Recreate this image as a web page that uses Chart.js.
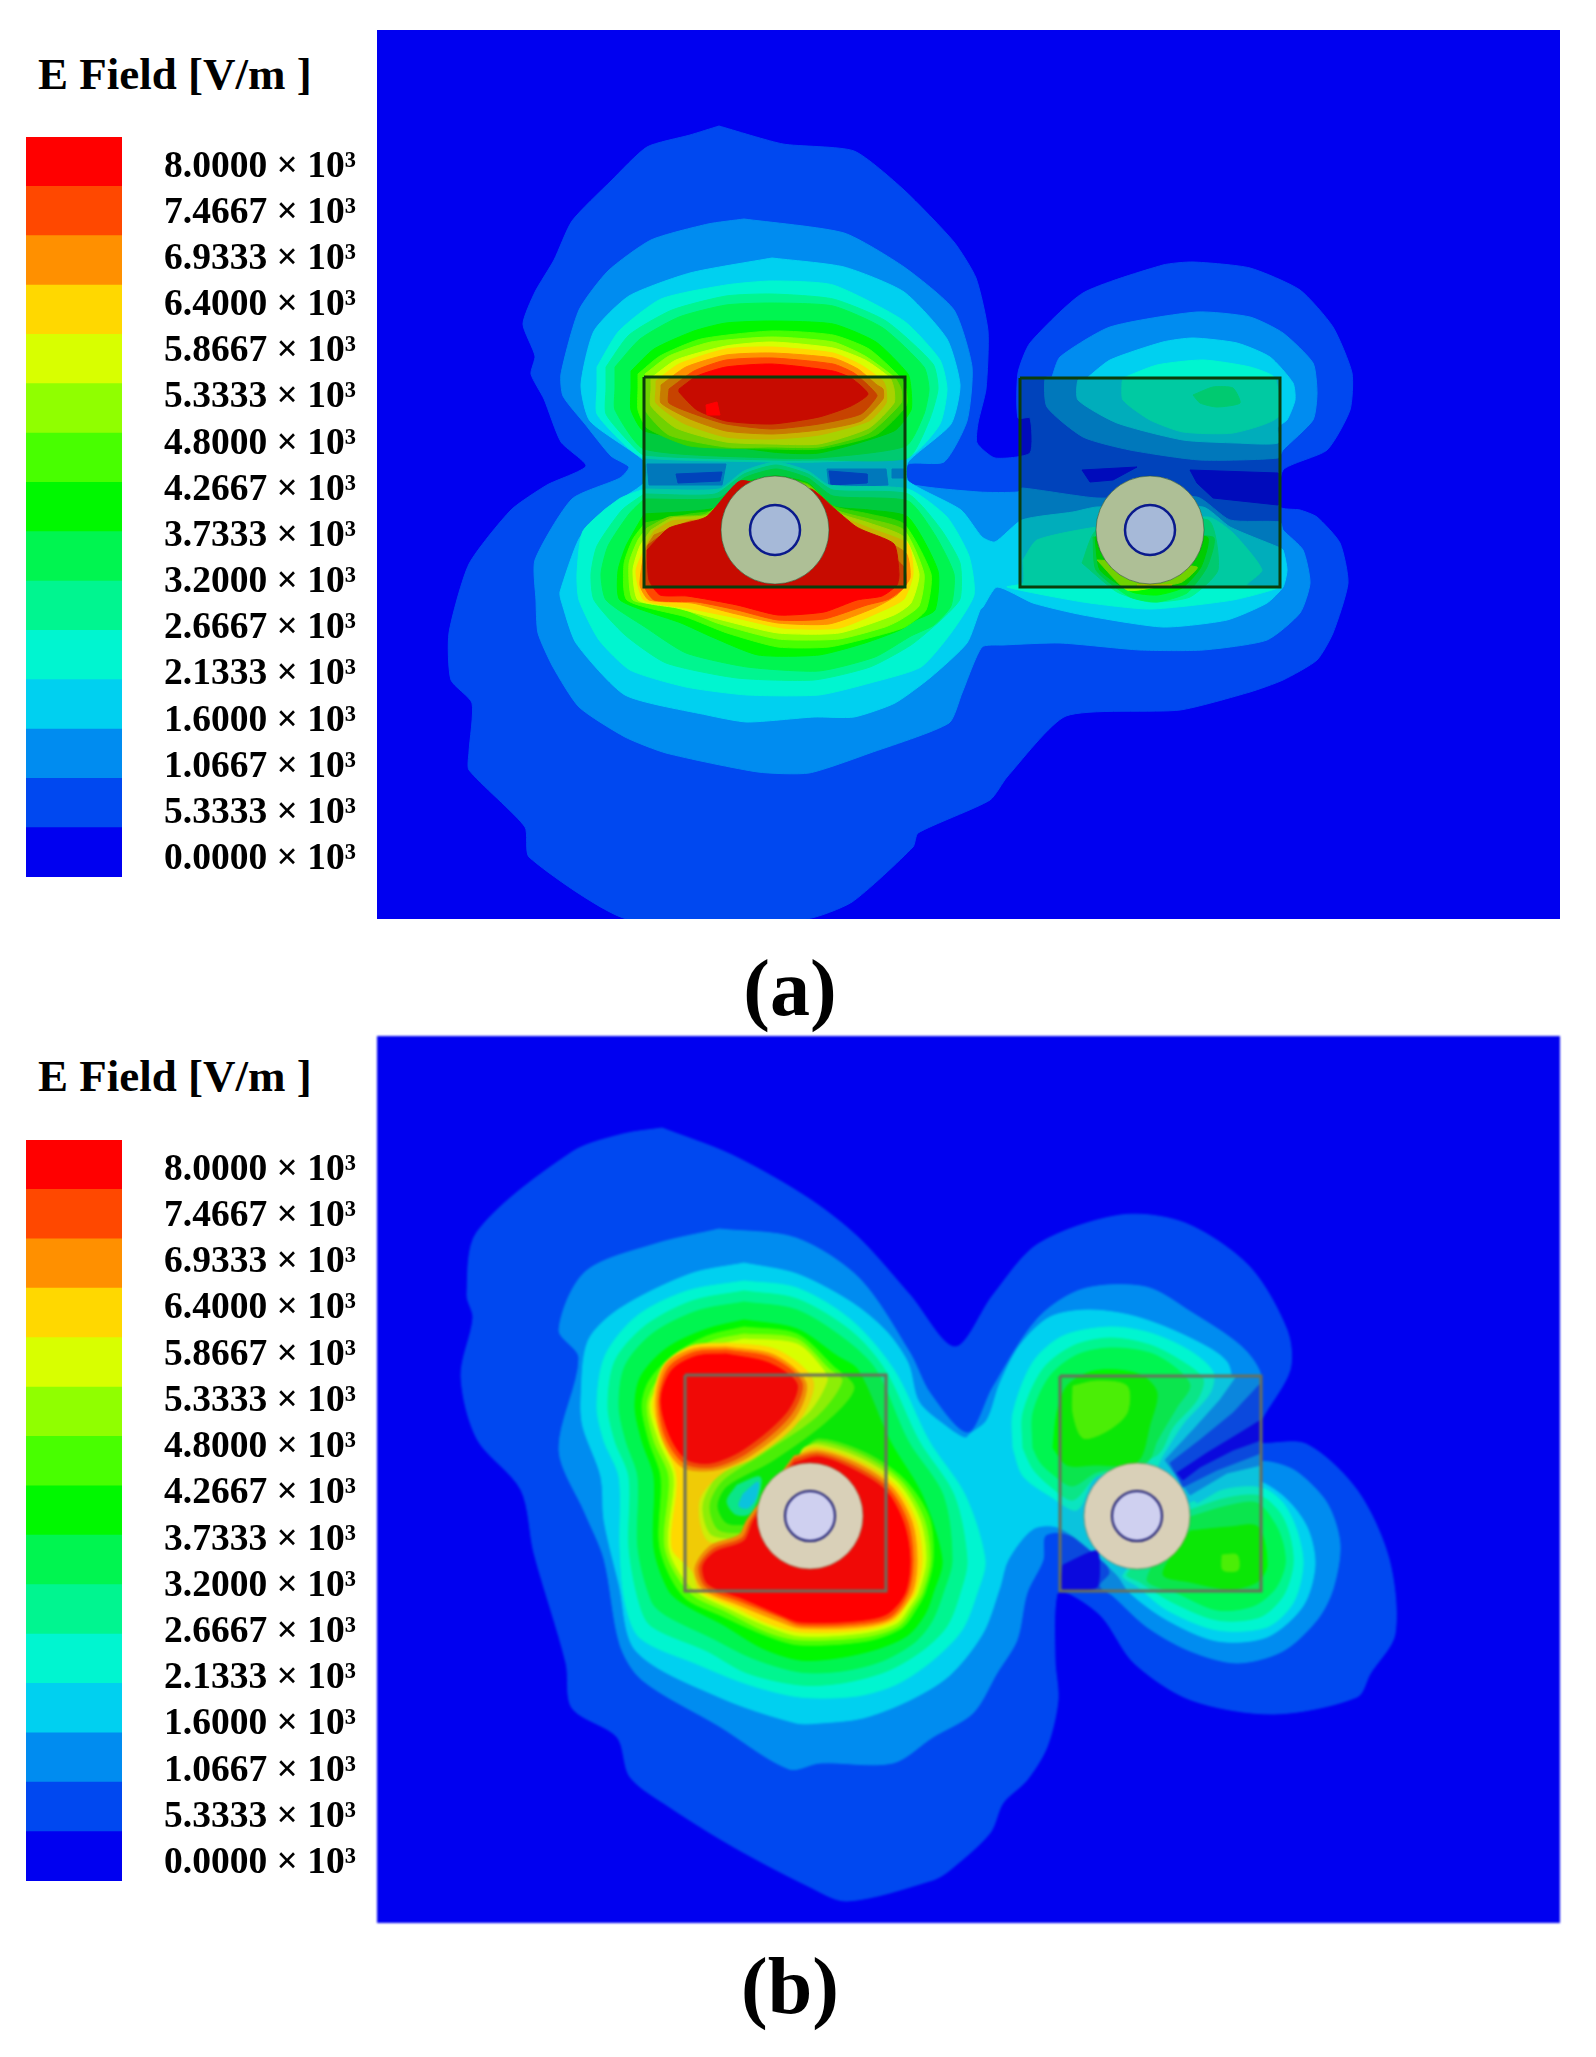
<!DOCTYPE html>
<html>
<head>
<meta charset="utf-8">
<title>E Field</title>
<script src="https://cdn.jsdelivr.net/npm/chart.js@4/dist/chart.umd.js"></script>
<style>
  html, body { margin: 0; background: #fff; }
  #page { position: relative; width: 1596px; height: 2057px; overflow: hidden; }
  canvas { position: absolute; }
  #fieldB { filter: blur(1.2px); }
  .head, .cap { position: absolute; font-family: "Liberation Serif", serif; font-weight: bold; color: #000; white-space: pre; line-height: 1; }
  .head { font-size: 45px; left: 38px; }
  .cap { font-size: 80px; left: 690px; width: 200px; text-align: center; }
</style>
</head>
<body>
<div id="page">
  <div class="head" style="top:52px">E Field [V/m ]</div>
  <div class="head" style="top:1054px">E Field [V/m ]</div>
  <canvas id="legendA" width="377" height="740" style="left:0;top:137px"></canvas>
  <canvas id="legendB" width="377" height="741" style="left:0;top:1140px"></canvas>
  <canvas id="fieldA" width="1183" height="889" style="left:377px;top:30px"></canvas>
  <canvas id="fieldB" width="1183" height="887" style="left:377px;top:1036px"></canvas>
  <div class="cap" style="top:948px">(a)</div>
  <div class="cap" style="top:1946px">(b)</div>
</div>
<script>
// colour bar
const bandStarts = [0, 533.33, 1066.67, 1600, 2133.33, 2666.67, 3200, 3733.33, 4266.67, 4800, 5333.33, 5866.67, 6400, 6933.33, 7466.67];
const bandColors = ['#0000f0', '#0048f0', '#008cf0', '#00d0f0', '#00f5d0', '#00f590', '#00f550', '#00f800',
                    '#48ff00', '#90ff00', '#d8ff00', '#ffd800', '#ff9000', '#ff4800', '#ff0000'];
const tickLabels = ['0.0000', '5.3333', '1.0667', '1.6000', '2.1333', '2.6667', '3.2000', '3.7333',
                    '4.2667', '4.8000', '5.3333', '5.8667', '6.4000', '6.9333', '7.4667', '8.0000'];

// panel (a) contours, field units from the frame's top left corner
const aOuter1 = [[342,96],[406,114],[477,121],[527,160],[577,212],[599,248],[611,301],[609,359],[601,393],[600,413],[618,428],[653,423],[653,388],[641,388],[641,343],[653,313],[706,263],[786,235],[816,232],[873,238],[923,260],[956,297],[975,343],[973,380],[950,420],[906,440],[903,477],[923,480],[940,487],[963,513],[971,553],[956,603],[940,630],[906,650],[873,662],[803,680],[689,686],[630,747],[613,770],[541,803],[536,817],[475,872],[429,889],[250,889],[152,827],[148,797],[92,740],[92,722],[95,673],[74,650],[72,603],[92,534],[134,480],[170,455],[209,436],[184,412],[167,369],[154,344],[158,326],[146,294],[158,262],[177,230],[195,191],[234,151],[270,117],[313,105]];
const aMain2 = [[367,189],[467,203],[527,237],[577,280],[595,337],[590,391],[567,432],[531,434],[529,453],[602,462],[641,462],[645,458],[720,468],[820,467],[853,490],[903,492],[906,500],[926,520],[933,553],[923,583],[890,610],[826,620],[763,620],[683,613],[626,615],[605,617],[585,663],[572,693],[493,723],[432,743],[381,742],[289,723],[248,707],[202,677],[176,637],[161,603],[159,570],[158,530],[195,469],[243,448],[252,437],[234,426],[208,394],[186,366],[184,344],[202,280],[231,241],[274,210],[331,194]];
const aRightUp2 = [[675,347],[683,327],[733,297],[820,282],[873,287],[906,303],[936,333],[940,363],[936,390],[906,420],[901,428],[823,430],[753,420],[706,407],[670,377],[668,348]];
const aMain3 = [[395,228],[467,237],[527,262],[570,309],[583,355],[574,394],[531,432],[531,451],[584,480],[605,507],[618,512],[645,490],[696,482],[720,477],[826,477],[853,497],[901,517],[906,520],[910,540],[906,557],[890,573],[850,590],[786,597],[706,585],[656,573],[620,557],[606,577],[603,580],[590,613],[554,647],[518,673],[477,687],[437,687],[370,692],[330,685],[248,665],[199,613],[184,570],[183,562],[202,509],[227,480],[267,453],[268,432],[213,391],[204,355],[217,301],[252,266],[313,243]];
const aRightUp3 = [[710,348],[733,330],[786,312],[816,308],[860,313],[893,327],[916,353],[918,370],[910,390],[901,397],[901,413],[860,413],[806,410],[740,393],[701,370],[701,350]];
const aGap2 = [[270,434],[349,434],[345,455],[272,455]];
const aGap2b = [[450,439],[509,439],[511,455],[452,457]];
const aGap2c = [[515,439],[527,439],[527,448],[515,448]];
const aGap1 = [[299,444],[345,442],[343,451],[301,453]];
const aGap1b = [[452,441],[490,444],[490,453],[454,455]];
const aRightGap0 = [[705,440],[760,437],[736,450],[713,452]];
const aRightGap0b = [[813,440],[901,443],[901,475],[836,468],[820,453]];

const aTop4 = [[220,337],[242,301],[284,269],[349,255],[395,251],[456,255],[527,291],[563,330],[570,359],[563,394],[534,425],[442,432],[395,432],[267,428],[249,416],[220,384],[220,359]];
const aTop5 = [[229,337],[252,305],[295,280],[349,266],[395,264],[456,269],[509,291],[556,334],[561,359],[552,391],[531,428],[442,430],[395,430],[267,425],[252,412],[229,384],[229,359]];
const aTop6 = [[238,337],[263,309],[302,287],[349,275],[395,273],[456,276],[506,298],[547,337],[552,359],[547,384],[529,416],[442,428],[395,428],[267,419],[238,380],[238,359]];
const aTop7 = [[254,341],[277,319],[317,301],[349,293],[395,291],[456,294],[499,312],[531,344],[534,359],[534,380],[517,401],[442,423],[395,422],[267,401],[254,380],[254,359]];
const aTop8 = [[261,344],[283,326],[324,309],[395,301],[456,305],[492,319],[524,348],[529,359],[529,376],[499,405],[442,419],[395,419],[313,416],[270,398],[261,380],[261,359]];
const aTop9 = [[268,344],[292,326],[334,312],[395,307],[456,312],[488,326],[518,348],[524,359],[524,373],[492,403],[442,417],[395,417],[349,417],[292,405],[268,380],[268,359]];
const aTop10 = [[274,348],[299,330],[349,316],[395,312],[456,318],[488,330],[513,348],[517,359],[517,373],[492,398],[442,414],[395,414],[349,412],[299,398],[274,376],[274,359]];
const aTop11 = [[279,351],[302,334],[349,319],[395,317],[456,323],[484,335],[506,351],[509,359],[509,373],[492,391],[442,405],[395,409],[349,407],[306,393],[279,373],[279,359]];
const aTop12 = [[284,355],[309,337],[349,325],[395,323],[456,328],[481,339],[500,355],[506,359],[506,369],[484,391],[442,400],[395,404],[349,401],[313,389],[284,373],[284,359]];
const aTop13 = [[292,359],[317,341],[349,330],[395,328],[456,334],[477,343],[495,359],[500,366],[484,384],[442,394],[395,399],[349,394],[320,385],[292,373]];
const aTop14 = [[302,359],[320,346],[349,337],[395,334],[456,341],[474,348],[491,364],[474,376],[442,387],[395,394],[349,391],[320,380],[302,362]];

const aLow4 = [[267,459],[342,459],[367,441],[399,432],[431,441],[452,455],[531,459],[570,487],[592,526],[597,565],[574,603],[544,637],[493,653],[442,665],[370,665],[309,657],[253,640],[222,610],[202,570],[200,544],[206,501],[242,469]];
const aLow5 = [[267,464],[338,464],[367,444],[399,435],[431,444],[456,460],[531,464],[563,498],[583,533],[583,569],[564,590],[534,615],[493,637],[437,650],[360,648],[289,633],[248,605],[217,570],[214,544],[220,516],[245,480]];
const aLow6 = [[267,469],[342,468],[367,448],[399,439],[431,448],[456,466],[531,471],[558,505],[577,544],[574,576],[557,595],[534,606],[498,627],[442,641],[370,637],[309,623],[268,597],[229,570],[224,544],[231,516],[252,484]];
const aLow7 = [[267,484],[338,478],[367,453],[399,446],[431,453],[456,476],[492,480],[531,487],[561,541],[558,580],[539,590],[523,600],[488,613],[442,625],[381,625],[335,607],[304,593],[243,570],[241,541],[249,516]];
const aLow8 = [[268,493],[313,484],[338,480],[367,454],[399,448],[431,454],[456,476],[492,484],[527,494],[554,544],[549,580],[528,597],[503,605],[452,617],[401,617],[350,603],[309,587],[250,570],[247,534],[256,509]];
const aLow9 = [[270,498],[292,487],[329,484],[367,454],[399,450],[431,455],[459,480],[492,489],[527,500],[547,544],[542,576],[523,590],[508,597],[462,609],[401,609],[340,593],[296,575],[256,570],[252,534],[261,510]];
const aLow10 = [[274,500],[295,488],[331,485],[368,453],[399,452],[431,457],[459,482],[492,493],[527,507],[542,544],[534,573],[517,585],[462,603],[401,603],[345,590],[300,578],[261,570],[256,540],[263,516]];
const aLow11 = [[277,501],[295,491],[331,487],[370,453],[399,454],[431,459],[459,484],[492,498],[531,514],[536,544],[527,569],[507,580],[462,598],[406,598],[355,587],[310,578],[267,570],[259,541],[272,509]];
const aLow12 = [[277,505],[313,491],[329,489],[370,455],[399,456],[431,461],[459,486],[492,503],[529,523],[533,548],[520,565],[497,578],[452,594],[401,593],[355,583],[315,573],[272,570],[263,555],[268,520]];
const aLow13 = [[271,515],[285,505],[329,490],[372,458],[399,458],[431,463],[460,488],[492,507],[527,537],[529,555],[512,569],[490,575],[447,589],[401,590],[360,580],[320,572],[277,570],[267,555]];
const aLow14 = [[270,520],[292,498],[329,487],[363,451],[399,459],[434,459],[459,480],[481,498],[517,514],[522,544],[520,555],[505,566],[480,570],[447,582],[401,585],[360,575],[310,566],[283,565],[272,550]];

const aRightUp4 = [[746,348],[780,335],[826,330],[873,337],[898,348],[901,387],[856,403],[806,402],[773,390],[746,370],[745,353]];
const aRightUp5 = [[816,365],[836,357],[856,358],[863,373],[840,377],[823,373]];
const aRightLow4 = [[646,530],[660,510],[720,497],[831,487],[856,503],[885,540],[870,555],[903,557],[856,570],[773,579],[706,572],[630,557],[646,553]];
const aRightLow5 = [[705,533],[720,500],[831,490],[841,540],[813,567],[773,572],[740,562]];
const aRightLow6 = [[716,507],[719,540],[753,567],[780,572],[810,563],[830,537],[836,507]];
const aRightLow7 = [[718,507],[723,540],[755,562],[780,565],[805,558],[824,537],[830,507]];
const aRightLow9 = [[720,530],[750,560],[780,557],[805,552],[820,537]];
const aRightLow11 = [[760,555],[775,557],[795,555]];

const aBoxLeft = [[267,347],[528,347],[528,557],[267,557]];
const aBoxRight = [[643,348],[903,348],[903,557],[643,557]];
const aHotSpot = [[329,375],[340,372],[343,385],[330,385]];
const aCentres = [[398,500],[773,500]];

// panel (b) contours
const bOuter1 = [[285,92],[355,119],[431,162],[482,202],[533,259],[578,311],[616,259],[661,208],[744,179],[808,187],[872,230],[910,294],[913,334],[884,385],[878,406],[929,408],[980,454],[1012,523],[1018,598],[993,638],[980,661],[897,678],[814,664],[757,627],[725,581],[693,558],[680,558],[678,624],[681,664],[670,711],[650,744],[626,767],[613,797],[573,834],[556,844],[470,865],[431,850],[355,810],[291,770],[253,741],[240,701],[195,672],[189,627],[157,517],[144,454],[100,403],[84,340],[96,282],[90,259],[100,196],[195,116],[246,98]];
const bMain2 = [[342,193],[419,202],[482,242],[533,317],[553,357],[591,397],[616,351],[661,282],[706,253],[769,251],[814,276],[865,311],[884,340],[875,374],[835,425],[860,426],[893,426],[920,436],[950,467],[963,508],[956,553],[940,584],[906,615],[860,627],[813,615],[770,591],[736,560],[723,550],[733,536],[716,512],[686,497],[668,500],[666,524],[650,557],[640,604],[620,637],[596,677],[556,701],[516,727],[443,727],[412,733],[342,690],[265,644],[243,609],[227,523],[208,477],[182,414],[202,322],[182,294],[208,236],[278,208]];
const bMain3 = [[367,227],[420,238],[474,266],[509,295],[531,327],[542,366],[570,391],[588,402],[593,398],[610,384],[623,347],[643,309],[673,281],[713,274],[760,281],[813,302],[850,326],[853,357],[830,384],[800,415],[793,429],[820,457],[873,443],[906,460],[930,491],[938,529],[926,570],[890,601],[840,605],[790,584],[753,557],[740,539],[706,508],[680,491],[656,493],[631,524],[623,551],[606,597],[573,639],[533,664],[486,682],[443,687],[419,687],[342,661],[259,615],[242,548],[227,484],[224,441],[206,391],[204,363],[211,305],[242,273],[313,238]];
const bLeft4 = [[367,245],[420,252],[474,284],[517,334],[552,405],[588,459],[608,524],[600,557],[585,594],[556,624],[520,648],[480,660],[423,661],[370,648],[320,628],[263,602],[248,566],[243,512],[242,441],[227,405],[220,370],[228,320],[260,280],[310,255]];
const bLeft5 = [[367,255],[420,263],[474,295],[508,334],[542,405],[577,459],[590,524],[583,557],[570,590],[546,614],[510,635],[465,647],[423,649],[370,637],[330,615],[274,590],[262,566],[252,512],[252,441],[238,405],[231,370],[238,325],[268,290],[315,265]];
const bLeft6 = [[367,266],[420,274],[470,305],[499,334],[531,405],[566,459],[575,524],[566,557],[555,585],[538,606],[505,625],[465,635],[423,636],[375,622],[335,602],[290,580],[275,566],[261,512],[261,441],[249,405],[242,370],[248,330],[275,298],[320,275]];
const bLeft7 = [[367,284],[420,293],[460,320],[481,334],[513,405],[545,459],[565,524],[556,557],[548,578],[531,599],[500,613],[460,622],[423,624],[385,612],[345,588],[310,570],[292,555],[277,512],[277,441],[265,405],[258,370],[264,340],[290,312],[330,293]];
const bLeft8 = [[367,291],[420,298],[456,330],[477,352],[450,385],[395,425],[350,450],[340,470],[350,488],[375,488],[400,480],[425,417],[442,403],[489,417],[527,443],[552,481],[556,524],[548,557],[540,572],[525,592],[490,605],[423,609],[390,600],[345,580],[306,560],[283,512],[284,441],[272,405],[265,370],[272,345],[295,320],[330,300]];
const bLeft9 = [[367,298],[420,303],[452,333],[465,345],[440,380],[385,418],[345,445],[332,470],[342,495],[378,495],[400,480],[425,417],[442,406],[487,420],[524,445],[547,483],[553,524],[545,557],[537,570],[522,590],[488,601],[423,604],[390,596],[350,576],[312,556],[288,512],[292,441],[277,405],[270,370],[278,348],[300,325],[335,305]];
const bLeft10 = [[367,303],[420,308],[445,332],[450,345],[430,378],[380,412],[340,440],[325,470],[335,500],[378,500],[400,485],[425,414],[442,409],[485,423],[521,447],[543,484],[549,524],[541,557],[533,570],[520,587],[486,597],[423,600],[390,590],[355,574],[315,552],[292,512],[297,441],[282,405],[273,370],[282,350],[305,330],[340,310]];
const bLeft11 = [[349,307],[400,314],[436,345],[421,386],[378,421],[345,437],[322,465],[330,505],[365,505],[385,500],[425,417],[442,412],[483,426],[518,449],[539,485],[545,524],[538,557],[530,568],[517,585],[484,594],[423,596],[388,586],[360,572],[323,555],[315,535],[295,512],[300,441],[286,405],[276,370],[286,330],[314,310]];
const bUp12 = [[349,311],[397,319],[429,347],[417,383],[373,420],[338,434],[305,431],[285,402],[279,363],[289,328],[316,313]];
const bUp13 = [[349,314],[395,322],[425,347],[413,380],[370,417],[336,431],[307,427],[288,400],[282,363],[292,331],[318,316]];
const bUp14 = [[349,318],[392,327],[420,348],[409,377],[367,413],[334,427],[309,423],[292,398],[284,363],[295,334],[320,320]];
const bDown12 = [[417,420],[442,415],[481,428],[515,451],[535,486],[540,524],[535,557],[515,583],[482,591],[423,592],[404,586],[362,569],[326,553],[318,532],[333,510],[362,499],[370,484]];
const bDown13 = [[417,423],[442,418],[479,431],[512,453],[531,487],[536,524],[531,557],[513,581],[480,588],[423,589],[405,582],[365,566],[329,551],[322,531],[336,513],[365,502],[374,484]];
const bDown14 = [[417,427],[442,421],[477,434],[509,455],[527,488],[533,524],[528,557],[510,578],[478,585],[423,586],[406,580],[367,563],[331,548],[326,530],[338,516],[367,505],[377,484]];
const bPatch5 = [[360,449],[383,441],[381,462],[372,478],[358,478],[350,465]];
const bPatch3 = [[366,458],[381,446],[379,462],[371,472],[362,470]];

const bUpper4 = [[636,412],[636,377],[656,326],[686,300],[733,291],[773,297],[813,315],[836,336],[833,357],[806,388],[786,419],[773,440],[720,440],[700,474],[673,460],[646,440]];
const bUpper5 = [[646,412],[646,377],[666,333],[696,310],[733,302],[773,309],[806,326],[826,343],[820,364],[796,391],[780,419],[720,440],[696,464],[673,450],[656,433]];
const bUpper6 = [[656,412],[656,377],[673,340],[700,319],[733,312],[773,317],[800,333],[813,350],[800,371],[780,405],[770,426],[720,436],[695,450],[673,436],[663,426]];
const bUpper7 = [[676,412],[680,377],[690,350],[713,336],[740,334],[766,340],[780,357],[773,388],[760,426],[716,429],[690,429]];
const bUpper8 = [[696,350],[720,345],[750,350],[750,377],[730,395],[706,402],[696,377]];
const bThird4 = [[813,467],[850,453],[885,452],[906,467],[920,495],[926,529],[916,567],[890,591],[840,594],[790,574],[760,550],[746,539]];
const bThird5 = [[813,474],[850,462],[883,460],[903,477],[913,501],[916,529],[906,560],[883,581],[840,584],[793,565],[763,546],[750,538]];
const bThird6 = [[813,481],[850,470],[880,467],[898,488],[906,508],[908,529],[898,553],[876,570],[840,574],[800,557],[770,543]];
const bThird7 = [[813,495],[853,491],[881,491],[890,529],[880,546],[853,553],[813,546],[786,538]];
const bThird8 = [[845,519],[860,519],[861,534],[846,534]];
const bStripe3 = [[785,424],[806,394],[836,357],[853,340],[884,340],[884,444],[856,446],[820,467]];
const bStripe2 = [[788,424],[816,394],[843,364],[860,340],[884,340],[884,429],[850,437],[813,459]];
const bStripe1 = [[793,427],[823,404],[856,377],[884,347],[884,417],[840,434],[806,451]];
const bStripe0 = [[800,437],[830,417],[863,397],[884,384],[884,404],[856,414],[823,431],[806,444]];
const bCorner0 = [[686,529],[720,515],[720,551],[685,553]];

const bBoxLeft = [[308,339],[509,339],[509,555],[308,555]];
const bBoxRight = [[683,340],[884,340],[884,555],[683,555]];
const bCentres = [[433,480],[760,480]];

const roundA = 0.2;
const roundB = 0.3;

function closed(pts) {
  return pts.concat([pts[0]]).map(p => ({x: p[0], y: p[1]}));
}

function contour(pts, band, tension) {
  return {
    data: closed(pts),
    showLine: true,
    fill: 'shape',
    backgroundColor: bandColors[band],
    borderColor: bandColors[band],
    borderWidth: 1,
    pointRadius: 0,
    tension: tension
  };
}

function frameBox(pts, tint, edge) {
  return {
    data: closed(pts),
    showLine: true,
    fill: 'shape',
    backgroundColor: tint,
    borderColor: edge,
    borderWidth: 3,
    pointRadius: 0,
    borderJoinStyle: 'miter'
  };
}

function discs(centres, radius, colour, edge, edgeWidth) {
  return {
    data: centres.map(p => ({x: p[0], y: p[1]})),
    showLine: false,
    pointRadius: radius,
    pointBackgroundColor: colour,
    pointBorderColor: edge,
    pointBorderWidth: edgeWidth
  };
}

function drawField(id, datasets, xMax, yMax) {
  new Chart(document.getElementById(id), {
    type: 'scatter',
    // chart.js paints the first dataset last
    data: {datasets: datasets.slice().reverse()},
    options: {
      responsive: false,
      animation: false,
      events: [],
      layout: {padding: 0, autoPadding: false},
      plugins: {legend: {display: false}, tooltip: {enabled: false}},
      scales: {
        x: {type: 'linear', display: false, min: 0, max: xMax},
        y: {type: 'linear', display: false, min: 0, max: yMax, reverse: true}
      }
    },
    plugins: [{
      id: 'fieldBack',
      beforeDraw(chart) {
        const {ctx, chartArea: a} = chart;
        ctx.save();
        ctx.fillStyle = bandColors[0];
        ctx.fillRect(a.left, a.top, a.width, a.height);
        ctx.restore();
      }
    }]
  });
}

function drawLegend(id) {
  const step = bandStarts[1];
  new Chart(document.getElementById(id), {
    type: 'bar',
    data: {
      labels: ['E Field'],
      datasets: bandStarts.map((v, i) => ({
        data: [[v, v + step]],
        backgroundColor: bandColors[i],
        barPercentage: 1,
        categoryPercentage: 1,
        grouped: false,
        yAxisID: 'y'
      }))
    },
    options: {
      responsive: false,
      animation: false,
      events: [],
      layout: {padding: {left: 26}},
      plugins: {legend: {display: false}, tooltip: {enabled: false}},
      scales: {
        x: {display: false},
        y: {display: false, min: 0, max: step * bandStarts.length},
        labels: {
          type: 'linear',
          position: 'right',
          min: -0.381,
          max: 15.65,
          grid: {display: false, drawTicks: false},
          border: {display: false},
          afterBuildTicks(scale) {
            scale.ticks = tickLabels.map((t, i) => ({value: i}));
          },
          afterFit(scale) {
            scale.width = 255;
            scale.paddingTop = 0;
            scale.paddingBottom = 0;
          },
          ticks: {
            padding: 42,
            color: '#000',
            autoSkip: false,
            font: {family: '"Liberation Serif"', size: 37.5, weight: 'bold'},
            callback: (v, i) => tickLabels[i] + ' × 10³'
          }
        }
      }
    }
  });
}

drawLegend('legendA');
drawLegend('legendB');

const fieldASets = [
  contour(aOuter1, 1, roundA),
  contour(aMain2, 2, roundA), contour(aRightUp2, 2, roundA),
  contour(aRightGap0, 0, 0), contour(aRightGap0b, 0, 0),
  contour(aMain3, 3, roundA), contour(aRightUp3, 3, roundA),
  contour(aGap2, 2, 0), contour(aGap2b, 2, 0), contour(aGap2c, 2, 0),
  contour(aGap1, 1, 0), contour(aGap1b, 1, 0),
  contour(aTop4, 4, roundA), contour(aLow4, 4, roundA), contour(aRightUp4, 4, roundA), contour(aRightLow4, 4, roundA),
  contour(aTop5, 5, roundA), contour(aLow5, 5, roundA), contour(aRightUp5, 5, roundA), contour(aRightLow5, 5, roundA),
  contour(aTop6, 6, roundA), contour(aLow6, 6, roundA), contour(aRightLow6, 6, roundA),
  contour(aTop7, 7, roundA), contour(aLow7, 7, roundA), contour(aRightLow7, 7, roundA),
  contour(aTop8, 8, roundA), contour(aLow8, 8, roundA),
  contour(aTop9, 9, roundA), contour(aLow9, 9, roundA), contour(aRightLow9, 9, roundA),
  contour(aTop10, 10, roundA), contour(aLow10, 10, roundA),
  contour(aTop11, 11, roundA), contour(aLow11, 11, roundA), contour(aRightLow11, 11, roundA),
  contour(aTop12, 12, roundA), contour(aLow12, 12, roundA),
  contour(aTop13, 13, roundA), contour(aLow13, 13, roundA),
  contour(aTop14, 14, roundA), contour(aLow14, 14, roundA),
  frameBox(aBoxLeft, 'rgba(0,50,0,0.22)', '#0b3d0b'),
  frameBox(aBoxRight, 'rgba(0,50,0,0.22)', '#0b3d0b'),
  contour(aHotSpot, 14, 0),
  discs(aCentres, 54, '#aebf96', 'rgba(40,80,50,0.55)', 1),
  discs(aCentres, 25, '#a6b9d8', '#0a1a8c', 2.5)
];

const fieldBSets = [
  contour(bOuter1, 1, roundB),
  contour(bMain2, 2, roundB),
  contour(bMain3, 3, roundB),
  contour(bLeft4, 4, roundB), contour(bUpper4, 4, roundB), contour(bThird4, 4, roundB),
  contour(bLeft5, 5, roundB), contour(bUpper5, 5, roundB), contour(bThird5, 5, roundB),
  contour(bLeft6, 6, roundB), contour(bUpper6, 6, roundB), contour(bThird6, 6, roundB),
  contour(bLeft7, 7, roundB), contour(bUpper7, 7, roundB), contour(bThird7, 7, roundB),
  contour(bLeft8, 8, roundB), contour(bUpper8, 8, roundB), contour(bThird8, 8, roundB),
  contour(bLeft9, 9, roundB),
  contour(bLeft10, 10, roundB),
  contour(bLeft11, 11, roundB),
  contour(bUp12, 12, roundB), contour(bDown12, 12, roundB),
  contour(bUp13, 13, roundB), contour(bDown13, 13, roundB),
  contour(bUp14, 14, roundB), contour(bDown14, 14, roundB),
  contour(bPatch5, 5, roundB), contour(bPatch3, 3, roundB),
  contour(bStripe3, 3, 0), contour(bStripe2, 2, 0), contour(bStripe1, 1, 0), contour(bStripe0, 0, 0),
  contour(bCorner0, 0, 0.2),
  frameBox(bBoxLeft, 'rgba(110,90,60,0.10)', '#6a6f5c'),
  frameBox(bBoxRight, 'rgba(110,90,60,0.10)', '#6a6f5c'),
  discs(bCentres, 53, '#d9d0b8', 'rgba(120,110,70,0.6)', 1),
  discs(bCentres, 25, '#cfd0f0', '#1a1a70', 2)
];

drawField('fieldA', fieldASets, 1183, 889);
drawField('fieldB', fieldBSets, 1183, 887);
</script>
</body>
</html>
